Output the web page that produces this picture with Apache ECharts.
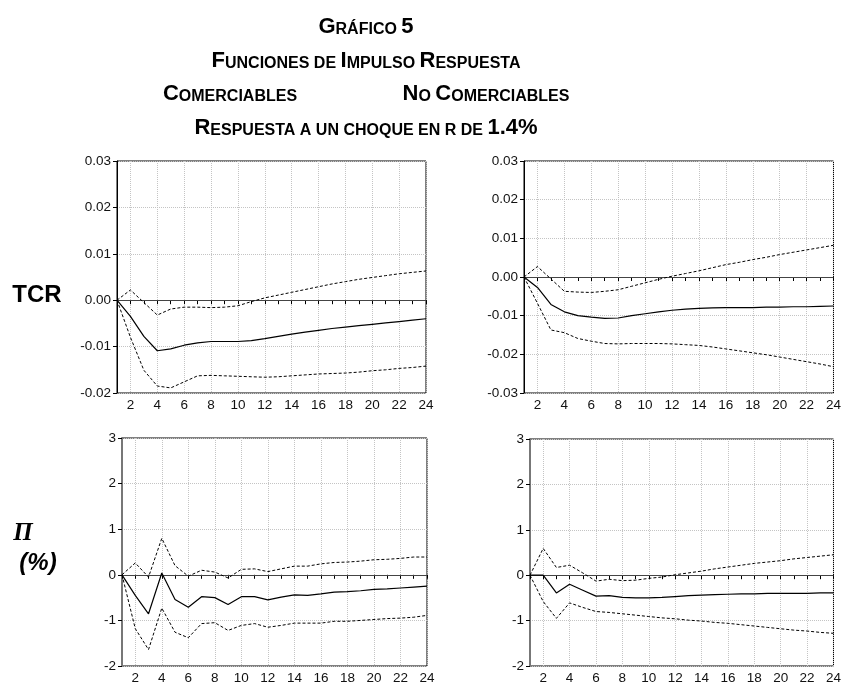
<!DOCTYPE html>
<html>
<head>
<meta charset="utf-8">
<script src="https://cdn.jsdelivr.net/npm/echarts@6/dist/echarts.min.js"></script>
<style>
html,body{margin:0;padding:0;background:#fff;}
#chart{width:844px;height:686px;}
</style>
</head>
<body>
<div id="chart"></div>
<script>
// Periods (x categories)
const periods = ['1','2','3','4','5','6','7','8','9','10','11','12','13','14','15','16','17','18','19','20','21','22','23','24'];

// TCR - Comerciables
const tcrComResp = [0, -0.0035, -0.0078, -0.0109, -0.0105, -0.0097, -0.0092, -0.0089, -0.0089, -0.0089, -0.0087, -0.0083, -0.0078, -0.0073, -0.0069, -0.0065, -0.0061, -0.0058, -0.0055, -0.0052, -0.0049, -0.0046, -0.0043, -0.0040];
const tcrComUp   = [0, 0.0022, -0.0005, -0.0032, -0.0019, -0.0015, -0.0015, -0.0016, -0.0015, -0.0012, -0.0003, 0.0005, 0.0011, 0.0017, 0.0023, 0.0029, 0.0035, 0.0040, 0.0045, 0.0049, 0.0053, 0.0057, 0.0060, 0.0063];
const tcrComLo   = [0, -0.0080, -0.0151, -0.0185, -0.0189, -0.0176, -0.0163, -0.0162, -0.0163, -0.0164, -0.0165, -0.0166, -0.0165, -0.0163, -0.0161, -0.0159, -0.0158, -0.0157, -0.0155, -0.0152, -0.0150, -0.0147, -0.0145, -0.0142];

// TCR - No Comerciables
const tcrNoResp = [0, -0.0027, -0.0071, -0.0090, -0.0100, -0.0104, -0.0107, -0.0106, -0.0100, -0.0095, -0.0090, -0.0086, -0.0083, -0.0081, -0.0080, -0.0079, -0.0079, -0.0079, -0.0078, -0.0078, -0.0077, -0.0077, -0.0076, -0.0075];
const tcrNoUp   = [0, 0.0027, -0.0005, -0.0037, -0.0039, -0.0040, -0.0037, -0.0033, -0.0024, -0.0015, -0.0006, 0.0002, 0.0009, 0.0016, 0.0024, 0.0032, 0.0038, 0.0045, 0.0051, 0.0058, 0.0064, 0.0070, 0.0076, 0.0082];
const tcrNoLo   = [0, -0.0068, -0.0137, -0.0144, -0.0159, -0.0166, -0.0172, -0.0173, -0.0172, -0.0172, -0.0172, -0.0173, -0.0175, -0.0177, -0.0181, -0.0186, -0.0191, -0.0196, -0.0201, -0.0207, -0.0213, -0.0219, -0.0225, -0.0232];

// Pi - Comerciables
const piComResp = [0, -0.45, -0.855, 0.04, -0.54, -0.71, -0.48, -0.50, -0.65, -0.48, -0.48, -0.55, -0.49, -0.44, -0.45, -0.42, -0.38, -0.37, -0.35, -0.32, -0.31, -0.29, -0.27, -0.25];
const piComUp   = [0, 0.26, -0.05, 0.80, 0.20, -0.03, 0.10, 0.06, -0.07, 0.12, 0.13, 0.07, 0.13, 0.19, 0.19, 0.24, 0.27, 0.28, 0.30, 0.33, 0.34, 0.36, 0.39, 0.39];
const piComLo   = [0, -1.18, -1.64, -0.73, -1.26, -1.38, -1.07, -1.05, -1.22, -1.11, -1.07, -1.15, -1.11, -1.06, -1.06, -1.06, -1.02, -1.02, -1.00, -0.98, -0.96, -0.95, -0.93, -0.89];

// Pi - No Comerciables
const piNoResp = [0, 0.0, -0.39, -0.20, -0.33, -0.46, -0.45, -0.49, -0.50, -0.50, -0.49, -0.47, -0.45, -0.44, -0.43, -0.42, -0.41, -0.41, -0.40, -0.40, -0.40, -0.40, -0.39, -0.39];
const piNoUp   = [0, 0.59, 0.17, 0.22, 0.05, -0.13, -0.09, -0.12, -0.11, -0.07, -0.04, 0.01, 0.05, 0.09, 0.14, 0.18, 0.22, 0.26, 0.29, 0.32, 0.36, 0.39, 0.42, 0.45];
const piNoLo   = [0, -0.58, -0.95, -0.61, -0.71, -0.80, -0.82, -0.85, -0.88, -0.91, -0.94, -0.96, -0.99, -1.01, -1.04, -1.06, -1.09, -1.12, -1.15, -1.18, -1.21, -1.23, -1.26, -1.28];

// y-axis ranges
const tcrComRange = {min: -0.02, max: 0.03, interval: 0.01};
const tcrNoRange  = {min: -0.03, max: 0.03, interval: 0.01};
const piRange     = {min: -2, max: 3, interval: 1};

const panels = [
  {grid:{left:117, top:161, width:309, height:232}, range:tcrComRange, dec:2, resp:tcrComResp, up:tcrComUp, lo:tcrComLo, axisW:1, axisC:'#000'},
  {grid:{left:524, top:161, width:310, height:232}, range:tcrNoRange, dec:2, resp:tcrNoResp, up:tcrNoUp, lo:tcrNoLo, axisW:1, axisC:'#000'},
  {grid:{left:122, top:438, width:305, height:228}, range:piRange, dec:0, resp:piComResp, up:piComUp, lo:piComLo, axisW:2, axisC:'#777'},
  {grid:{left:530, top:439, width:304, height:227}, range:piRange, dec:0, resp:piNoResp, up:piNoUp, lo:piNoLo, axisW:2, axisC:'#777'}
];

const FONT = "'Liberation Sans', Arial, Helvetica, sans-serif";
const evenIdx = function (index) { return (index + 1) % 2 === 0; };

const grids = [], xAxes = [], yAxes = [], series = [];
panels.forEach(function (p, i) {
  grids.push(Object.assign({show:true, borderColor:'#000', borderWidth:1, containLabel:false}, p.grid));
  xAxes.push({
    type:'category', gridIndex:i, data:periods, boundaryGap:false,
    axisLine:{show:true, lineStyle:{color:'#000', width:1}},
    axisTick:{show:true, interval:0, length:4, lineStyle:{color:'#000'}},
    axisLabel:{interval:evenIdx, margin:5, color:'#111', fontSize:13.5, fontFamily:FONT},
    splitLine:{show:true, interval:evenIdx, lineStyle:{color:'#c4c4c4', type:'dotted', width:1}}
  });
  yAxes.push({
    type:'value', gridIndex:i, min:p.range.min, max:p.range.max, interval:p.range.interval,
    axisLine:{show:true, onZero:false, lineStyle:{color:p.axisC, width:p.axisW}},
    axisTick:{show:true, length:4, lineStyle:{color:'#000'}},
    axisLabel:{margin:6, color:'#111', fontSize:13.5, fontFamily:FONT,
      formatter:(function(d){return function(v){return Number(v).toFixed(d);};})(p.dec)},
    splitLine:{show:true, lineStyle:{color:'#c4c4c4', type:'dotted', width:1}}
  });
  series.push({
    type:'line', xAxisIndex:i, yAxisIndex:i, data:p.resp, symbol:'none', silent:true,
    lineStyle:{color:'#000', width:1.2, type:'solid'}, z:5,
    markLine:{silent:true, symbol:['none','none'], label:{show:false},
      lineStyle:{color:'#444', width:1, type:'solid'}, data:[{yAxis:0}], z:3}
  });
  series.push({
    type:'line', xAxisIndex:i, yAxisIndex:i, data:p.up, symbol:'none', silent:true,
    lineStyle:{color:'#000', width:1, type:[3,2]}, z:4
  });
  series.push({
    type:'line', xAxisIndex:i, yAxisIndex:i, data:p.lo, symbol:'none', silent:true,
    lineStyle:{color:'#000', width:1, type:[3,2]}, z:4
  });
});

const TF = "'Liberation Sans', Arial, Helvetica, sans-serif";
const rich = {
  B:{fontSize:22, fontWeight:'bold', fontFamily:TF, color:'#000', lineHeight:22, verticalAlign:'bottom'},
  s:{fontSize:16, fontWeight:'bold', fontFamily:TF, color:'#000', lineHeight:16, verticalAlign:'bottom'}
};
function titleText(str, x, y) {
  return {type:'text', x:x, y:y, silent:true,
    style:{text:str, rich:rich, align:'center', verticalAlign:'bottom', fill:'#000'}};
}

const graphics = [
  titleText('{B|G}{s|RÁFICO }{B|5}', 366, 38),
  titleText('{B|F}{s|UNCIONES DE }{B|I}{s|MPULSO }{B|R}{s|ESPUESTA}', 366, 72),
  titleText('{B|C}{s|OMERCIABLES}', 230, 105),
  titleText('{B|N}{s|O }{B|C}{s|OMERCIABLES}', 486, 105),
  titleText('{B|R}{s|ESPUESTA A UN CHOQUE EN R DE }{B|1.4%}', 366, 139),
  {type:'text', x:37, y:295, silent:true,
    style:{text:'TCR', align:'center', verticalAlign:'middle', fill:'#000',
      font:"bold 24px 'Liberation Sans', Arial, sans-serif"}},
  {type:'text', x:23, y:534, silent:true,
    style:{text:'Π', align:'center', verticalAlign:'middle', fill:'#000',
      font:"italic bold 25px 'Liberation Serif', 'Times New Roman', serif"}},
  {type:'text', x:38, y:563, silent:true,
    style:{text:'(%)', align:'center', verticalAlign:'middle', fill:'#000',
      font:"italic bold 24px 'Liberation Sans', Arial, sans-serif"}}
];

const chart = echarts.init(document.getElementById('chart'), null, {renderer:'canvas'});
chart.setOption({
  animation:false,
  backgroundColor:'#fff',
  grid:grids, xAxis:xAxes, yAxis:yAxes, series:series,
  graphic:graphics
});
</script>
</body>
</html>
